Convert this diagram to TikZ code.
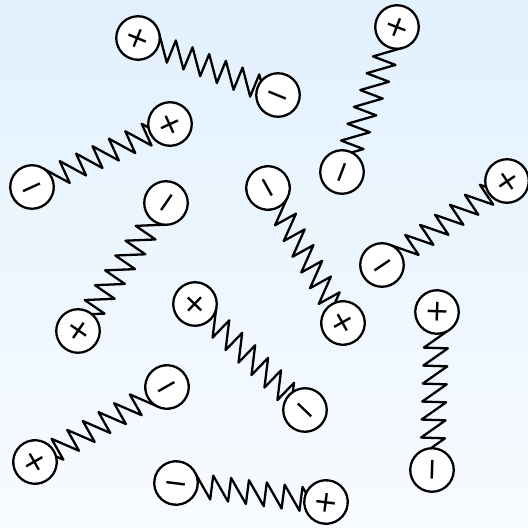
\documentclass[tikz,border=0pt]{standalone}
\usepackage{fontspec}
\usepackage{tikz}
\usetikzlibrary{decorations.pathmorphing, backgrounds}
\newfontfamily\signfont{DejaVu Sans}
\definecolor{bgtop}{RGB}{226,241,254}
\definecolor{bgbottom}{RGB}{248,251,255}

\begin{document}
\begin{tikzpicture}[
  charge/.style={circle, draw=black, fill=white, line width=1.3pt,
                 minimum size=0.87cm, inner sep=0pt,
                 font=\signfont\fontsize{17}{17}\selectfont,
                 text height=11.2pt, text depth=0pt},
  spring/.style={line width=1.3pt, line join=round, decorate,
                 decoration={saw, segment length=0.36cm,
                             amplitude=-0.48cm, raise=0.24cm}},
]
\useasboundingbox (0,0) rectangle (10.56,10.56);

\node[charge, rotate=-22.2] (p1)  at (2.76,9.80)  {+};
\node[charge, rotate=-22.2] (m1)  at (5.56,8.66)  {−};
\node[charge, rotate=69.2]  (p2)  at (7.94,10.02) {+};
\node[charge, rotate=69.2]  (m2)  at (6.84,7.12)  {−};
\node[charge, rotate=24.5]  (m3)  at (0.64,6.82)  {−};
\node[charge, rotate=24.5]  (p3)  at (3.40,8.08)  {+};
\node[charge, rotate=55.5]  (m4)  at (3.32,6.50)  {−};
\node[charge, rotate=55.5]  (p4)  at (1.56,3.94)  {+};
\node[charge, rotate=-60.9] (m5)  at (5.36,6.80)  {−};
\node[charge, rotate=-60.9] (p5)  at (6.86,4.10)  {+};
\node[charge, rotate=33.9]  (m6)  at (7.64,5.26)  {−};
\node[charge, rotate=33.9]  (p6)  at (10.14,6.94) {+};
\node[charge, rotate=-43.9] (p7)  at (3.90,4.48)  {+};
\node[charge, rotate=-43.9] (m7)  at (6.10,2.36)  {−};
\node[charge, rotate=88.2]  (p8)  at (8.74,4.32)  {+};
\node[charge, rotate=88.2]  (m8)  at (8.64,1.16)  {−};
\node[charge, rotate=29.6]  (m9)  at (3.34,2.82)  {−};
\node[charge, rotate=29.6]  (p9)  at (0.70,1.32)  {+};
\node[charge, rotate=-7.2]  (m10) at (3.52,0.90)  {−};
\node[charge, rotate=-7.2]  (p10) at (6.52,0.52)  {+};

\begin{pgfonlayer}{background}
  \shade[top color=bgtop, bottom color=bgbottom] (0,0) rectangle (10.56,10.56);
  % springs run centre to centre, the ends hide under the charges
  \draw[spring] (p1.center) -- (m1.center);
  \draw[spring] (p2.center) -- (m2.center);
  \draw[spring] (m3.center) -- (p3.center);
  \draw[spring] (m4.center) -- (p4.center);
  \draw[spring] (m5.center) -- (p5.center);
  \draw[spring] (m6.center) -- (p6.center);
  \draw[spring] (p7.center) -- (m7.center);
  \draw[spring] (p8.center) -- (m8.center);
  \draw[spring] (m9.center) -- (p9.center);
  \draw[spring] (m10.center) -- (p10.center);
\end{pgfonlayer}

\end{tikzpicture}
\end{document}
